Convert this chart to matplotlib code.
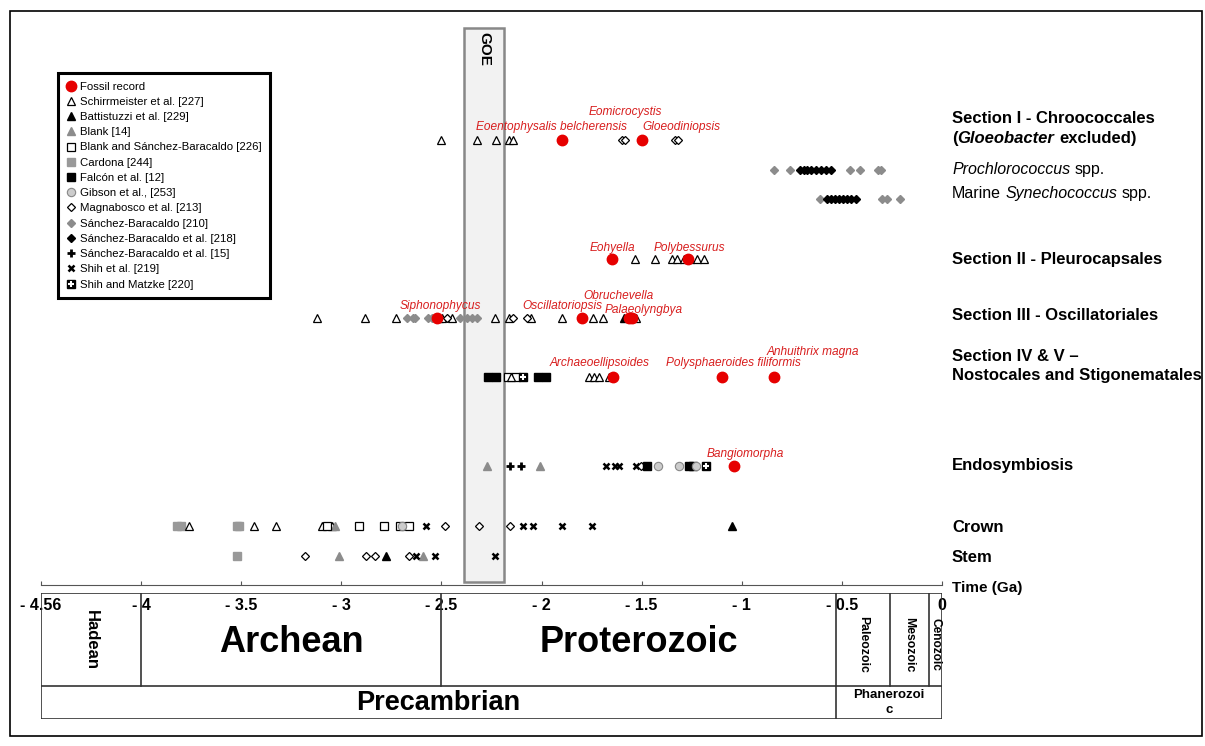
import matplotlib
matplotlib.use("Agg")
import matplotlib.pyplot as plt
import matplotlib.transforms as mtransforms
from matplotlib.lines import Line2D
from matplotlib.patches import Rectangle

plt.rcParams['font.family'] = ['Liberation Sans', 'DejaVu Sans']

# ---- data (ages in Ga, negative = before present) ----
s1_fossil = [-1.90, -1.50]
s1_schirrmeister = [-2.50, -2.32, -2.23, -2.165, -2.145]
s1_magnabosco = [-1.60, -1.585, -1.335, -1.32]

pro_sb210 = [-0.84, -0.76, -0.46, -0.41, -0.32, -0.305]
pro_sb218 = [-0.71, -0.69, -0.675, -0.655, -0.63, -0.605, -0.58, -0.555]

syn_sb210 = [-0.61, -0.30, -0.275, -0.21]
syn_sb218 = [-0.575, -0.555, -0.535, -0.515, -0.495, -0.475, -0.455, -0.43]

s2_fossil = [-1.65, -1.27]
s2_schirrmeister = [-1.535, -1.435, -1.35, -1.325, -1.29, -1.26, -1.225, -1.19]

s3_fossil = [-2.52, -1.80, -1.565, -1.55]
s3_schirrmeister = [-3.12, -2.88, -2.725, -2.51, -2.495, -2.445, -2.235, -2.165,
                    -2.055, -1.90, -1.745, -1.695, -1.53]
s3_sb210 = [-2.67, -2.64, -2.63, -2.565, -2.545, -2.53, -2.405, -2.37, -2.345, -2.32]
s3_magnabosco = [-2.47, -2.145, -2.075]
s3_battistuzzi = [-1.59]

s4_fossil = [-1.645, -1.10, -0.84]
s4_falcon = [-2.265, -2.23, -2.02, -1.98]
s4_blank_sb = [-2.17, -2.13]
s4_schirrmeister = [-2.155, -1.765, -1.74, -1.715, -1.665]
s4_shih_matzke = [-2.095]

en_fossil = [-1.04]
en_blank = [-2.27, -2.01]
en_sb15 = [-2.16, -2.105]
en_shih = [-1.68, -1.635, -1.615, -1.53]
en_magnabosco = [-1.505]
en_falcon = [-1.475, -1.265, -1.245]
en_gibson = [-1.42, -1.315, -1.23]
en_shih_matzke = [-1.18]

cr_cardona = [-3.82, -3.80, -3.52, -3.51]
cr_schirrmeister = [-3.76, -3.435, -3.325, -3.095, -3.045]
cr_blank = [-3.03]
cr_blank_sb = [-3.07, -2.91, -2.785, -2.705, -2.66]
cr_gibson = [-2.695]
cr_shih = [-2.575, -2.095, -2.045, -1.90, -1.75]
cr_magnabosco = [-2.48, -2.31, -2.16]
cr_battistuzzi = [-1.05]

st_cardona = [-3.52]
st_magnabosco = [-3.18, -2.875, -2.83, -2.66]
st_blank = [-3.01, -2.59]
st_battistuzzi = [-2.775]
st_shih = [-2.625, -2.53, -2.235]

fossil_labels = [
    ("Eoentophysalis belcherensis", -1.95, 127),
    ("Eomicrocystis", -1.58, 112),
    ("Gloeodiniopsis", -1.30, 127),
    ("Eohyella", -1.645, 248),
    ("Polybessurus", -1.26, 248),
    ("Siphonophycus", -2.505, 306),
    ("Oscillatoriopsis", -1.895, 306),
    ("Obruchevella", -1.615, 296),
    ("Palaeolyngbya", -1.49, 310),
    ("Archaeoellipsoides", -1.71, 363),
    ("Polysphaeroides filiformis", -1.04, 363),
    ("Anhuithrix magna", -0.645, 352),
    ("Bangiomorpha", -0.98, 454),
]

goe = (-2.385, -2.19)
eon_lines = [-4.0, -2.5, -0.53]
era_lines = [-0.26, -0.065]
tick_pos = [-4.5, -4, -3.5, -3, -2.5, -2, -1.5, -1, -0.5, 0]
tick_lab = ['- 4.56', '- 4', '- 3.5', '- 3', '- 2.5', '- 2', '- 1.5', '- 1', '- 0.5', '0']

# ---- marker styles per source ----
RED = '#e60000'
GREY = '#8c8c8c'
sources = {
    'Fossil record': dict(marker='o', ms=7.5, mfc=RED, mec=RED, zorder=5),
    'Schirrmeister et al. [227]': dict(marker='^', ms=5.5, mfc='white', mec='black', mew=0.9),
    'Battistuzzi et al. [229]': dict(marker='^', ms=5.5, mfc='black', mec='black'),
    'Blank [14]': dict(marker='^', ms=5.5, mfc=GREY, mec=GREY),
    'Blank and Sánchez-Baracaldo [226]': dict(marker='s', ms=5.5, mfc='white', mec='black', mew=0.9),
    'Cardona [244]': dict(marker='s', ms=5.5, mfc='#999999', mec='#999999'),
    'Falcón et al. [12]': dict(marker='s', ms=5.5, mfc='black', mec='black'),
    'Gibson et al., [253]': dict(marker='o', ms=6, mfc='#cccccc', mec='#888888', mew=0.8),
    'Magnabosco et al. [213]': dict(marker='D', ms=4.3, mfc='white', mec='black', mew=0.9),
    'Sánchez-Baracaldo [210]': dict(marker='D', ms=4.5, mfc=GREY, mec=GREY),
    'Sánchez-Baracaldo et al. [218]': dict(marker='D', ms=4.5, mfc='black', mec='black'),
    'Sánchez-Baracaldo et al. [15]': dict(marker='+', ms=6, mec='black', mew=2),
    'Shih et al. [219]': dict(marker='x', ms=5, mec='black', mew=1.8),
    'Shih and Matzke [220]': dict(marker='s', ms=6, mfc='black', mec='black'),
}

row_y = {'s1': 139.5, 'pro': 169.5, 'syn': 198.5, 's2': 259, 's3': 318,
         's4': 377, 'en': 465.5, 'cr': 525.5, 'st': 555.5}

series = [
    ('s1', 'Schirrmeister et al. [227]', s1_schirrmeister),
    ('s1', 'Magnabosco et al. [213]', s1_magnabosco),
    ('s1', 'Fossil record', s1_fossil),
    ('pro', 'Sánchez-Baracaldo [210]', pro_sb210),
    ('pro', 'Sánchez-Baracaldo et al. [218]', pro_sb218),
    ('syn', 'Sánchez-Baracaldo [210]', syn_sb210),
    ('syn', 'Sánchez-Baracaldo et al. [218]', syn_sb218),
    ('s2', 'Schirrmeister et al. [227]', s2_schirrmeister),
    ('s2', 'Fossil record', s2_fossil),
    ('s3', 'Sánchez-Baracaldo [210]', s3_sb210),
    ('s3', 'Schirrmeister et al. [227]', s3_schirrmeister),
    ('s3', 'Magnabosco et al. [213]', s3_magnabosco),
    ('s3', 'Battistuzzi et al. [229]', s3_battistuzzi),
    ('s3', 'Fossil record', s3_fossil),
    ('s4', 'Falcón et al. [12]', s4_falcon),
    ('s4', 'Blank and Sánchez-Baracaldo [226]', s4_blank_sb),
    ('s4', 'Schirrmeister et al. [227]', s4_schirrmeister),
    ('s4', 'Shih and Matzke [220]', s4_shih_matzke),
    ('s4', 'Fossil record', s4_fossil),
    ('en', 'Blank [14]', en_blank),
    ('en', 'Sánchez-Baracaldo et al. [15]', en_sb15),
    ('en', 'Shih et al. [219]', en_shih),
    ('en', 'Magnabosco et al. [213]', en_magnabosco),
    ('en', 'Falcón et al. [12]', en_falcon),
    ('en', 'Gibson et al., [253]', en_gibson),
    ('en', 'Shih and Matzke [220]', en_shih_matzke),
    ('en', 'Fossil record', en_fossil),
    ('cr', 'Cardona [244]', cr_cardona),
    ('cr', 'Schirrmeister et al. [227]', cr_schirrmeister),
    ('cr', 'Blank [14]', cr_blank),
    ('cr', 'Blank and Sánchez-Baracaldo [226]', cr_blank_sb),
    ('cr', 'Gibson et al., [253]', cr_gibson),
    ('cr', 'Shih et al. [219]', cr_shih),
    ('cr', 'Magnabosco et al. [213]', cr_magnabosco),
    ('cr', 'Battistuzzi et al. [229]', cr_battistuzzi),
    ('st', 'Cardona [244]', st_cardona),
    ('st', 'Magnabosco et al. [213]', st_magnabosco),
    ('st', 'Blank [14]', st_blank),
    ('st', 'Battistuzzi et al. [229]', st_battistuzzi),
    ('st', 'Shih et al. [219]', st_shih),
]

W, H = 1205, 746
fig = plt.figure(figsize=(W / 100, H / 100), dpi=100)
fig.patches.append(Rectangle((10 / W, 10 / H), 1192 / W, 725 / H, transform=fig.transFigure,
                             fill=False, ec='black', lw=1.2))

# main chart: x in Ga, y in pixel rows
ax = fig.add_axes([41 / W, 1 - 585 / H, 901 / W, 585 / H])
ax.set_xlim(-4.5, 0)
ax.set_ylim(585, 0)
ax.patch.set_visible(False)
for s in ['top', 'left', 'right']:
    ax.spines[s].set_visible(False)
ax.spines['bottom'].set_color('#555555')
ax.set_yticks([])
ax.set_xticks(tick_pos, tick_lab)
ax.tick_params(axis='x', direction='in', length=3, pad=9, labelsize=11.5, colors='#555555',
               labelcolor='black')
for lbl in ax.get_xticklabels():
    lbl.set_fontweight('bold')

ax.add_patch(Rectangle((goe[0], 28), goe[1] - goe[0], 554, fc='#f2f2f2', ec='#888888',
                       lw=1.8, zorder=1))
ax.text(sum(goe) / 2, 32, 'GOE', rotation=-90, ha='center', va='top', fontsize=11,
        fontweight='bold', zorder=6)

for row, src, xs in series:
    st = dict(sources[src])
    z = st.pop('zorder', 3)
    ax.plot(xs, [row_y[row]] * len(xs), ls='none', zorder=z, **st)
    if src == 'Shih and Matzke [220]':
        ax.plot(xs, [row_y[row]] * len(xs), ls='none', marker='+', ms=4, mec='white',
                mew=1.5, zorder=z + 0.1)

for name, x, y in fossil_labels:
    ax.text(x, y, name, color='#d81e1e', style='italic', fontsize=8.6, ha='center',
            va='center', zorder=6)

# right-hand lane labels, built piece by piece so italic parts line up
renderer = fig.canvas.get_renderer()
lab_x = 0.05


def rich(y, parts, size):
    off = 0
    for txt, kw in parts:
        if txt == ' ':
            off += 0.278 * size * 100 / 72
            continue
        tr = mtransforms.offset_copy(ax.transData, fig=fig, x=off, y=0, units='dots')
        t = ax.text(lab_x, y, txt, transform=tr, fontsize=size, va='baseline', ha='left',
                    clip_on=False, **kw)
        off += t.get_window_extent(renderer).width


B = dict(fontweight='bold')
BI = dict(fontweight='bold', style='italic')
I = dict(style='italic')
R = dict()
rich(123, [('Section I - Chroococcales', B)], 12)
rich(143, [('(', B), ('Gloeobacter', BI), (' ', B), ('excluded)', B)], 12)
rich(174, [('Prochlorococcus', I), (' ', R), ('spp.', R)], 11.5)
rich(198, [('Marine', R), (' ', R), ('Synechococcus', I), (' ', R), ('spp.', R)], 11.5)
rich(264, [('Section II - Pleurocapsales', B)], 12)
rich(320, [('Section III - Oscillatoriales', B)], 12)
rich(361, [('Section IV & V \u2013', B)], 12)
rich(380, [('Nostocales and Stigonematales', B)], 12)
rich(470, [('Endosymbiosis', B)], 12)
rich(532, [('Crown', B)], 12)
rich(562, [('Stem', B)], 12)
rich(592, [('Time (Ga)', B)], 11)

# geological time table
tab = fig.add_axes([41 / W, 1 - 719 / H, 901 / W, 126 / H])
tab.set_xlim(-4.5, 0)
tab.set_ylim(0, 1)
tab.axis('off')
mid = 0.262
lc = dict(color='#333333', lw=1.2)
tab.plot([-4.5, 0, 0, -4.5, -4.5], [0, 0, 1, 1, 0], **lc)
tab.plot([-4.5, 0], [mid, mid], **lc)
for x in eon_lines:
    tab.plot([x, x], [mid, 1], **lc)
tab.plot([eon_lines[-1]] * 2, [0, mid], **lc)
for x in era_lines:
    tab.plot([x, x], [mid, 1], **lc)

tab.text(-4.25, 0.63, 'Hadean', rotation=-90, ha='center', va='center', fontsize=12,
         fontweight='bold')
tab.text(-3.25, 0.61, 'Archean', ha='center', va='center', fontsize=26, fontweight='bold')
tab.text(-1.515, 0.61, 'Proterozoic', ha='center', va='center', fontsize=26, fontweight='bold')
tab.text(-0.395, 0.59, 'Paleozoic', rotation=-90, ha='center', va='center', fontsize=8.8,
         fontweight='bold')
tab.text(-0.1625, 0.59, 'Mesozoic', rotation=-90, ha='center', va='center', fontsize=8.8,
         fontweight='bold')
tab.text(-0.0325, 0.59, 'Cenozoic', rotation=-90, ha='center', va='center', fontsize=8.6,
         fontweight='bold')
tab.text(-2.515, 0.13, 'Precambrian', ha='center', va='center', fontsize=19.5, fontweight='bold')
tab.text(-0.265, 0.13, 'Phanerozoi\nc', ha='center', va='center', fontsize=9.5,
         fontweight='bold', linespacing=1.25)

# legend
handles, labels = [], []
for src, st in sources.items():
    st = dict(st)
    st.pop('zorder', None)
    h = Line2D([], [], ls='none', **st)
    if src == 'Shih and Matzke [220]':
        h = (h, Line2D([], [], ls='none', marker='+', ms=4, mec='white', mew=1.5))
    handles.append(h)
    labels.append(src)
leg = fig.legend(handles, labels, loc='upper left', bbox_to_anchor=(58 / W, 1 - 73 / H),
                 borderaxespad=0, fontsize=8.2, frameon=True, fancybox=False, edgecolor='black',
                 framealpha=1, handlelength=0.8, handletextpad=0.35, labelspacing=0.46,
                 borderpad=0.75, markerscale=1.0)
leg.get_frame().set_linewidth(2.2)

fig.savefig('out.png', dpi=100)
